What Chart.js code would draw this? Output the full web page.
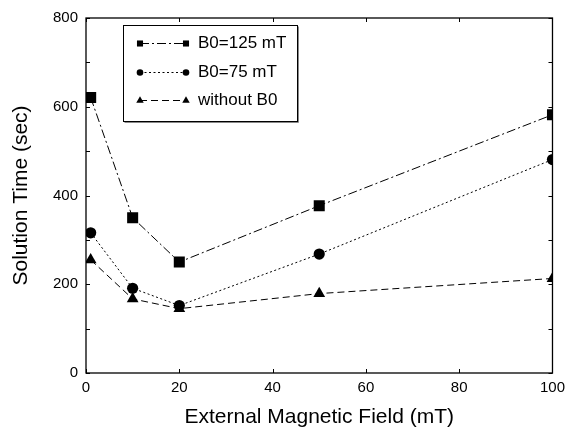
<!DOCTYPE html>
<html><head><meta charset="utf-8">
<script src="https://cdn.jsdelivr.net/npm/chart.js@4"></script>
<style>html,body{margin:0;padding:0;background:#fff}#wrap{width:571px;height:433px}</style>
</head><body><div id="wrap"><canvas id="c" width="571" height="433"></canvas></div>
<script>
const fieldValues = [1, 10, 20, 50, 100];
const seriesB125 = [621, 350, 250, 377, 582];
const seriesB75 = [316, 191, 152, 268, 481];
const seriesNone = [255, 167, 145, 179, 213];
const seriesLabels = ['B0=125 mT', 'B0=75 mT', 'without B0'];
const xTicks = [0, 20, 40, 60, 80, 100];
const yTicks = [0, 200, 400, 600, 800];
const yMinorTicks = [100, 300, 500, 700];

const FONT = '"Liberation Sans", Arial, sans-serif';
const styles = [
  {dash: [9, 3, 2, 3], pt: 'rect', r: 7.8, lr: 4.3},
  {dash: [2, 2.5], pt: 'circle', r: 5.6, lr: 3.3},
  {dash: [7, 4], pt: 'triangle', r: 6.8, lr: 4.3}
];
const allSeries = [seriesB125, seriesB75, seriesNone];
const datasets = allSeries.map((s, i) => ({
  label: seriesLabels[i],
  data: fieldValues.map((x, j) => ({x: x, y: s[j]})),
  borderColor: '#000', backgroundColor: '#000', borderWidth: 1,
  borderDash: styles[i].dash, pointStyle: styles[i].pt, pointRadius: styles[i].r,
  pointBorderWidth: 0, pointBackgroundColor: '#000', tension: 0, fill: false
}));

const framePlugin = {
  id: 'frame',
  afterDatasetsDraw(chart) {
    const {ctx, chartArea: a, scales} = chart;
    ctx.save();
    ctx.strokeStyle = '#000'; ctx.lineWidth = 1.3; ctx.setLineDash([]);
    ctx.strokeRect(a.left, a.top, a.right - a.left, a.bottom - a.top);
    ctx.lineWidth = 1;
    const tl = 4;
    xTicks.forEach(v => { const p = Math.round(scales.x.getPixelForValue(v)) + 0.5;
      ctx.beginPath(); ctx.moveTo(p, a.bottom); ctx.lineTo(p, a.bottom - tl);
      ctx.moveTo(p, a.top); ctx.lineTo(p, a.top + tl); ctx.stroke(); });
    yTicks.concat(yMinorTicks).forEach(v => { const p = Math.round(scales.y.getPixelForValue(v)) + 0.5;
      ctx.beginPath(); ctx.moveTo(a.left, p); ctx.lineTo(a.left + tl, p);
      ctx.moveTo(a.right, p); ctx.lineTo(a.right - tl, p); ctx.stroke(); });
    // legend
    const bx = 123, by = 25, bw = 174, bh = 96;
    ctx.fillStyle = '#fff'; ctx.fillRect(bx, by, bw, bh);
    ctx.strokeStyle = '#888'; ctx.lineWidth = 1; ctx.beginPath();
    ctx.moveTo(bx + 1.5, by + bh + 1.5); ctx.lineTo(bx + bw + 1.5, by + bh + 1.5); ctx.lineTo(bx + bw + 1.5, by + 1.5); ctx.stroke();
    ctx.strokeStyle = '#000'; ctx.strokeRect(bx + 0.5, by + 0.5, bw, bh);
    const rows = [43, 72, 100];
    chart.data.datasets.forEach((ds, i) => {
      const y = rows[i] + 0.5, x1 = 140, x2 = 186;
      ctx.save(); ctx.strokeStyle = '#000'; ctx.lineWidth = 1; ctx.setLineDash(ds.borderDash);
      ctx.beginPath(); ctx.moveTo(x1, y); ctx.lineTo(x2, y); ctx.stroke(); ctx.restore();
      ctx.fillStyle = '#000';
      [x1, x2].forEach(x => Chart.helpers.drawPoint(ctx, {pointStyle: ds.pointStyle, radius: styles[i].lr, rotation: 0, borderWidth: 0}, x, y));
      ctx.font = '17px ' + FONT; ctx.textBaseline = 'middle'; ctx.textAlign = 'left';
      ctx.fillText(ds.label, 198, y);
    });
    ctx.restore();
  }
};

new Chart(document.getElementById('c'), {
  type: 'line',
  data: {datasets: datasets},
  options: {
    responsive: false, animation: false,
    layout: {padding: {left: 0, right: 15, top: 18, bottom: 0}},
    plugins: {legend: {display: false}, tooltip: {enabled: false}},
    scales: {
      x: {type: 'linear', min: 0, max: 100, afterBuildTicks: s => { s.ticks = xTicks.map(v => ({value: v})); },
        grid: {display: false, drawTicks: false}, border: {display: false},
        ticks: {color: '#000', font: {family: FONT, size: 15}, padding: 6, maxRotation: 0},
        title: {display: true, text: 'External Magnetic Field (mT)', color: '#000', font: {family: FONT, size: 21}, padding: {top: 0, bottom: 3}},
        afterFit: s => { s.height = 60; }},
      y: {type: 'linear', min: 0, max: 800, afterBuildTicks: s => { s.ticks = yTicks.map(v => ({value: v})); },
        grid: {display: false, drawTicks: false}, border: {display: false},
        ticks: {color: '#000', font: {family: FONT, size: 15}, padding: 8},
        title: {display: true, text: 'Solution Time (sec)', color: '#000', font: {family: FONT, size: 21}, padding: {top: 9, bottom: 0}},
        afterFit: s => { s.width = 86; }}
    }
  },
  plugins: [framePlugin]
});
</script></body></html>
